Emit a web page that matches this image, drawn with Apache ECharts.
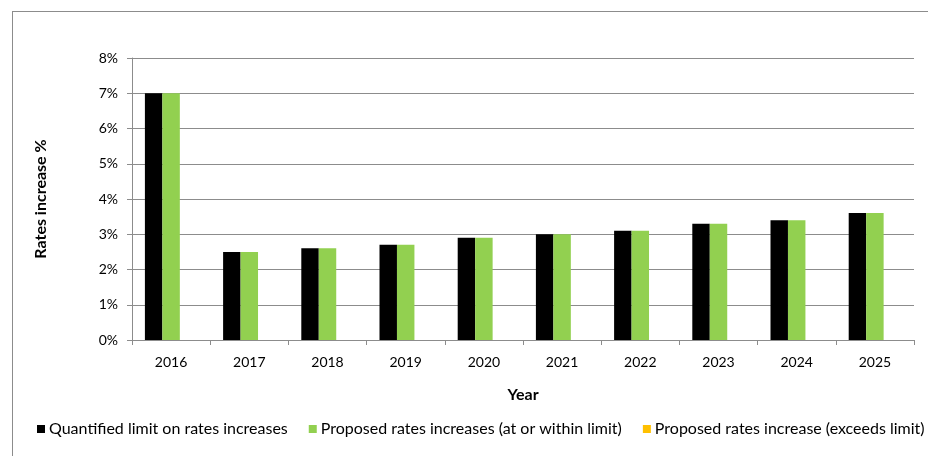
<!DOCTYPE html>
<html>
<head>
<meta charset="utf-8">
<script src="https://cdn.jsdelivr.net/npm/echarts@6/dist/echarts.min.js"></script>
<style>
  html, body { margin: 0; padding: 0; background: #fff; }
  #frame { position: absolute; left: 12px; top: 11px; width: 930px; height: 460px; border: 1px solid #8c8c8c; box-sizing: border-box; }
  #chart { position: absolute; left: 0; top: 0; width: 928px; height: 456px; }
</style>
</head>
<body>
<div id="frame"></div>
<div id="chart"></div>
<script>
// Annual rates increases, in percent
const years = ['2016', '2017', '2018', '2019', '2020', '2021', '2022', '2023', '2024', '2025'];
const quantifiedLimit = [7.0, 2.5, 2.6, 2.7, 2.9, 3.0, 3.1, 3.3, 3.4, 3.6];
const proposedWithin = [7.0, 2.5, 2.6, 2.7, 2.9, 3.0, 3.1, 3.3, 3.4, 3.6];
const proposedExceeds = [null, null, null, null, null, null, null, null, null, null];
const seriesNames = [
  'Quantified limit on rates increases',
  'Proposed rates increases (at or within limit)',
  'Proposed rates increase (exceeds limit)'
];

const font = 'Lato, "Open Sans", sans-serif';
const axisGrey = '#8c8c8c';

const chart = echarts.init(document.getElementById('chart'), null, { renderer: 'canvas' });
chart.setOption({
  animation: false,
  textStyle: { fontFamily: font },
  grid: { left: 132, right: 14, top: 58, bottom: 116, containLabel: false },
  legend: {
    left: 37, top: 421, width: 895,
    padding: 0,
    itemWidth: 8, itemHeight: 8, itemGap: 21,
    icon: 'rect',
    textStyle: { fontFamily: font, fontSize: 16, color: '#000', padding: [0, 0, 0, -1] },
    data: seriesNames
  },
  xAxis: {
    type: 'category',
    data: years,
    name: 'Year',
    nameLocation: 'middle',
    nameGap: 47,
    nameTextStyle: { fontFamily: font, fontSize: 16, fontWeight: 'bold', color: '#000' },
    axisLine: { lineStyle: { color: axisGrey, width: 1 } },
    axisTick: { show: true, alignWithLabel: false, length: 5, lineStyle: { color: axisGrey } },
    axisLabel: { color: '#000', fontSize: 14, margin: 15, fontFamily: font }
  },
  yAxis: {
    type: 'value',
    min: 0, max: 8, interval: 1,
    name: 'Rates increase %',
    nameLocation: 'middle',
    nameRotate: 90,
    nameGap: 83,
    nameTextStyle: { fontFamily: font, fontSize: 16, fontWeight: 'bold', color: '#000' },
    axisLine: { show: true, lineStyle: { color: axisGrey, width: 1 } },
    axisTick: { show: true, length: 5, lineStyle: { color: axisGrey } },
    axisLabel: { color: '#000', fontSize: 14, margin: 14, fontFamily: font, formatter: '{value}%' },
    splitLine: { show: true, lineStyle: { color: axisGrey, width: 1 } }
  },
  series: [
    { name: seriesNames[0], type: 'bar', data: quantifiedLimit, itemStyle: { color: '#000000' }, barGap: '0%', barCategoryGap: '33%' },
    { name: seriesNames[1], type: 'bar', data: proposedWithin, itemStyle: { color: '#92d050' }, barGap: '0%', barCategoryGap: '33%' },
    { name: seriesNames[2], type: 'bar', data: proposedExceeds, itemStyle: { color: '#ffc000' }, barGap: '0%', barCategoryGap: '33%' }
  ]
});
</script>
</body>
</html>
